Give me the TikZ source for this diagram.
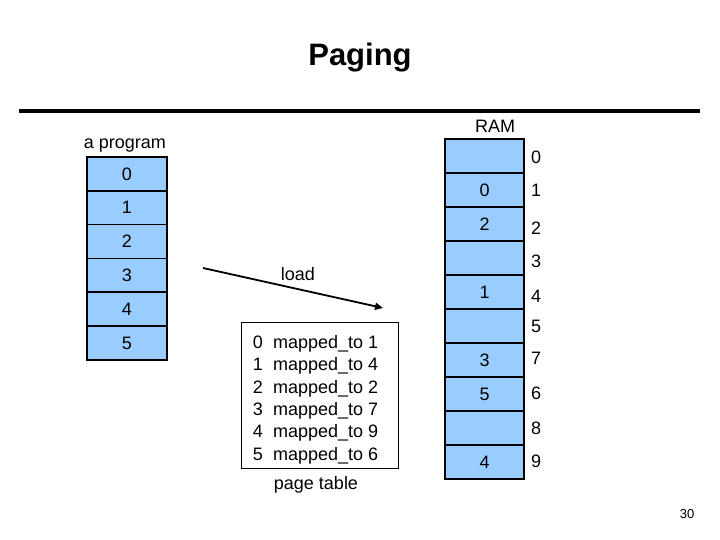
\documentclass[tikz,border=0pt]{standalone}
\usepackage{fontspec}
\setmainfont{Liberation Sans}
\usetikzlibrary{arrows.meta}
\definecolor{cellblue}{RGB}{153,204,255}
\tikzset{
  txt/.style={inner sep=0pt, font=\fontsize{18}{21}\selectfont},
  btxt/.style={inner sep=0pt, anchor=base, font=\fontsize{18}{21}\selectfont},
  pcell/.style={draw=black, line width=1.5pt, fill=cellblue, minimum width=80pt, minimum height=33.8pt, inner sep=0pt, font=\fontsize{18}{21}\selectfont},
  rcell/.style={draw=black, line width=1.5pt, fill=cellblue, minimum width=79pt, minimum height=34pt, inner sep=0pt, font=\fontsize{18}{21}\selectfont},
}
\begin{document}
\begin{tikzpicture}[x=1pt,y=-1pt]
\useasboundingbox (0,0) rectangle (720,540);
% title
\node[inner sep=0pt, font=\fontsize{31}{36}\selectfont\bfseries] (title) at (360,58) {Paging};
\coordinate (ruleL) at (19,111);
\coordinate (ruleR) at (700,111);
\draw[line width=4pt] (ruleL) -- (ruleR);
% program
\node[txt] (proglbl) at (125,146) {a program};
\foreach \i in {0,...,5}{
  \node[pcell] (p\i) at (127,{157+16.9+33.8*\i}) {\i};
}
% RAM
\node[txt] (ramlbl) at (495,126) {RAM};
\foreach \i/\t in {0/,1/0,2/2,3/,4/1,5/,6/3,7/5,8/,9/4}{
  \node[rcell] (r\i) at (484.5,{139+17+34*\i}) {\t};
}
\foreach \n/\y in {0/157,1/190,2/228,3/261,4/296,5/326,7/358,6/393,8/428,9/461}{
  \node[txt] (ra\n) at (536,\y) {\n};
}
% load arrow
\coordinate (ldA) at (203,268);
\coordinate (ldB) at (383,308);
\draw[line width=1.8pt, -{Triangle[length=8pt,width=7pt]}] (ldA) -- (ldB);
\node[txt] (loadlbl) at (298,274) {load};
% page table
\node[draw=black, line width=1pt, minimum width=157pt, minimum height=146pt, inner sep=0pt] (pt) at (319.5,395) {};
\foreach \i/\m in {0/1,1/4,2/2,3/7,4/9,5/6}{
  \node[btxt] (d\i) at (258,{348.5+22.3*\i}) {\i};
  \node[btxt, anchor=base west] (m\i) at (273,{348.5+22.3*\i}) {mapped\_to \m};
}
\node[txt] (ptlbl) at (316,485) {page table};
% page number
\node[inner sep=0pt, font=\fontsize{13}{15}\selectfont] (pgnum) at (687,514) {30};
\end{tikzpicture}
\end{document}
